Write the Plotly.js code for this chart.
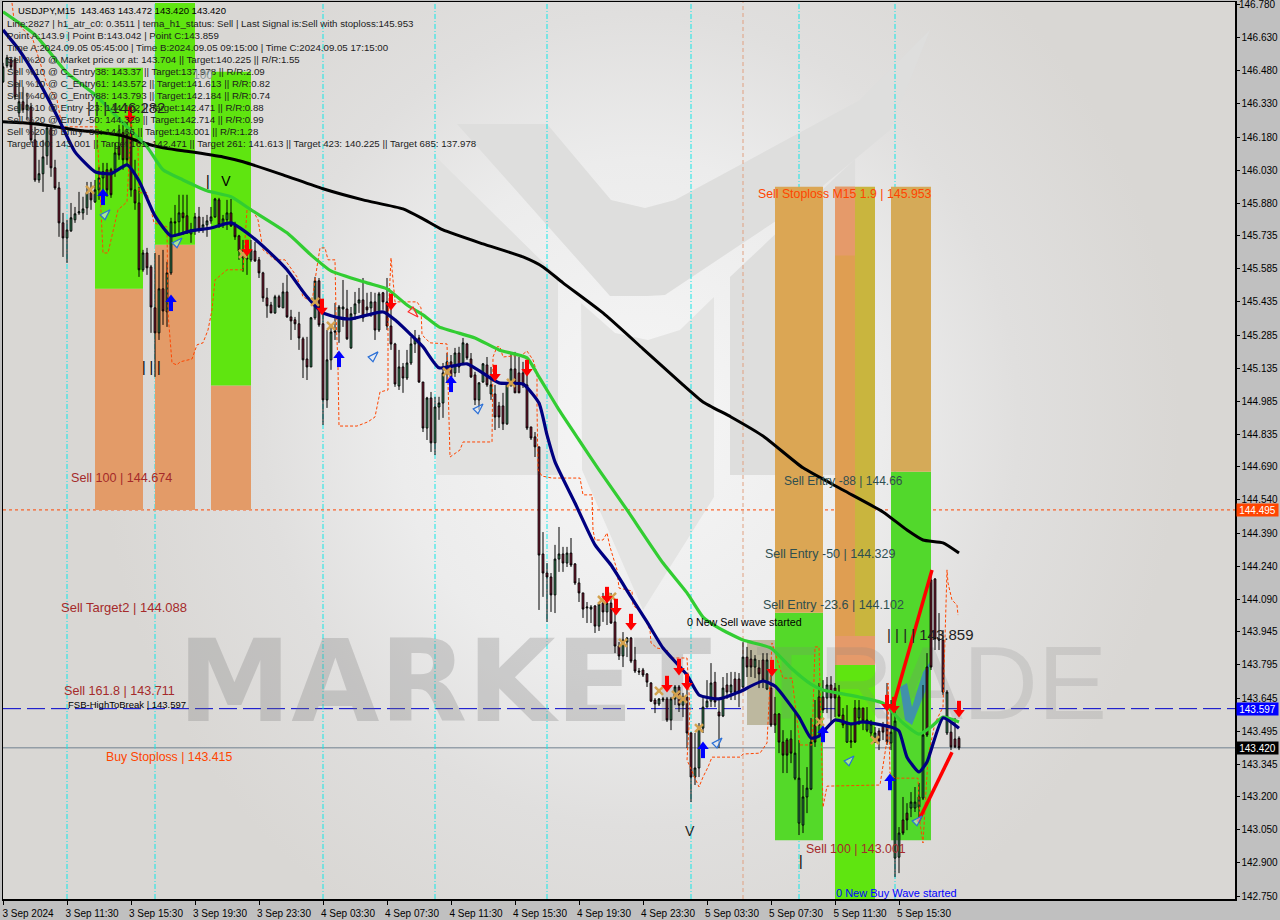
<!DOCTYPE html>
<html><head><meta charset="utf-8">
<script src="https://cdn.plot.ly/plotly-3.0.1.min.js"></script>
<style>
html,body{margin:0;padding:0;width:1280px;height:920px;overflow:hidden;background:#c0c0c0}
#bg{position:absolute;left:3px;top:2px;width:1232px;height:897px;background:radial-gradient(ellipse 540px 580px at 637px 418px,#f6f6f6 0%,#ececec 45%,#e0dfde 70%,#d9d7d4 100%)}
#chart{position:absolute;left:0;top:0;width:1280px;height:920px}
</style></head><body><div id="bg"></div><div id="chart"></div>
<script>
const highs=[146.515,146.551,146.542,146.542,146.425,146.407,146.38,146.334,146.226,146.077,
146.167,146.235,146.235,146.077,145.977,145.837,145.806,145.882,145.864,145.932,
145.91,145.977,145.977,145.986,146.045,146.063,146.063,146.041,146.154,146.235,
146.235,146.244,146.244,146.077,145.955,145.67,145.679,145.602,145.656,145.647,
145.67,145.616,145.815,145.873,145.919,145.919,145.919,145.792,145.837,145.864,
145.819,145.828,145.864,145.905,145.905,145.828,145.896,145.9,145.797,145.738,
145.715,145.715,145.715,145.706,145.638,145.571,145.498,145.435,145.467,145.467,
145.521,145.557,145.399,145.367,145.39,145.277,145.277,145.367,145.548,145.543,
145.421,145.308,145.322,145.43,145.421,145.534,145.489,145.412,145.48,145.498,
145.543,145.476,145.48,145.476,145.48,145.48,145.543,145.444,145.25,145.218,
145.159,145.218,145.277,145.308,145.286,145.073,145.006,145.028,145.006,145.006,
145.159,145.204,145.195,145.227,145.232,145.272,145.25,145.204,145.119,145.073,
145.159,145.186,145.141,145.06,144.983,145.024,145.069,145.204,145.209,145.186,
145.164,145.159,144.87,144.847,144.78,144.395,144.255,144.21,144.337,144.418,
144.328,144.328,144.368,144.255,144.187,144.12,144.079,144.065,144.065,144.079,
144.12,144.111,144.12,144.034,143.898,143.943,143.921,143.921,143.876,143.781,
143.781,143.758,143.717,143.645,143.645,143.65,143.65,143.65,143.704,143.704,
143.668,143.74,143.491,143.487,143.532,143.65,143.726,143.803,143.763,143.636,
143.74,143.758,143.763,143.763,143.758,143.898,143.876,143.862,143.839,143.817,
143.848,143.848,143.749,143.65,143.577,143.5,143.464,143.5,143.577,143.455,
143.252,143.333,143.555,143.636,143.713,143.726,143.74,143.744,143.713,143.704,
143.6,143.613,143.532,143.636,143.636,143.6,143.604,143.546,143.514,143.509,
143.537,143.713,143.636,143.622,143.062,143.198,143.17,143.22,143.243,143.261,
143.704,143.848,144.201,144.187,144.029,143.952,143.681,143.532,143.555,143.472];
const bodyTops=[146.497,146.538,146.529,146.529,146.339,146.339,146.325,146.316,146.167,146.014,
146.09,146.221,146.221,146.041,145.95,145.792,145.76,145.815,145.833,145.842,
145.855,145.928,145.928,145.941,145.995,146.023,146.032,146.032,146.108,146.136,
146.199,146.19,146.199,145.941,145.882,145.656,145.656,145.593,145.408,145.494,
145.494,145.566,145.797,145.797,145.837,145.837,145.824,145.76,145.819,145.819,
145.783,145.801,145.819,145.9,145.896,145.81,145.837,145.837,145.778,145.733,
145.67,145.634,145.67,145.665,145.625,145.566,145.453,145.421,145.458,145.458,
145.48,145.48,145.367,145.354,145.336,145.268,145.177,145.363,145.53,145.53,
145.336,145.173,145.299,145.304,145.412,145.412,145.403,145.381,145.426,145.444,
145.444,145.412,145.435,145.435,145.471,145.476,145.435,145.326,145.245,145.141,
145.141,145.159,145.245,145.268,145.272,145.073,145.001,145.001,144.96,144.978,
145.114,145.164,145.164,145.204,145.204,145.25,145.245,145.177,145.105,145.069,
145.155,145.15,145.06,145.019,144.965,144.965,145.06,145.132,145.132,145.114,
145.114,145.06,144.87,144.825,144.78,144.296,144.21,144.192,144.273,144.296,
144.296,144.3,144.3,144.251,144.165,144.12,144.056,144.056,144.061,144.07,
144.074,144.074,144.074,143.989,143.88,143.907,143.916,143.916,143.817,143.767,
143.772,143.754,143.713,143.636,143.641,143.641,143.641,143.641,143.695,143.695,
143.65,143.65,143.487,143.329,143.509,143.604,143.631,143.713,143.717,143.582,
143.69,143.704,143.704,143.731,143.731,143.83,143.83,143.821,143.821,143.781,
143.817,143.817,143.69,143.573,143.573,143.446,143.455,143.46,143.396,143.283,
143.198,143.238,143.446,143.523,143.65,143.65,143.704,143.704,143.69,143.65,
143.568,143.532,143.451,143.6,143.6,143.6,143.546,143.528,143.487,143.496,
143.523,143.523,143.491,143.541,143.035,143.094,143.125,143.175,143.175,143.198,
143.478,143.785,144.178,144.183,143.912,143.907,143.672,143.491,143.46,143.463];
const bodyBottoms=[146.429,146.502,146.497,146.362,146.289,146.303,146.303,146.167,145.986,145.986,
146.014,146.095,146.041,145.95,145.792,145.724,145.724,145.756,145.806,145.837,
145.837,145.86,145.896,145.887,145.941,145.995,145.941,145.919,146.032,146.099,
146.077,146.077,145.941,145.882,145.58,145.58,145.589,145.412,145.295,145.295,
145.394,145.39,145.566,145.792,145.797,145.815,145.747,145.742,145.76,145.76,
145.765,145.783,145.801,145.819,145.783,145.783,145.806,145.778,145.729,145.665,
145.634,145.629,145.625,145.62,145.566,145.453,145.417,145.385,145.385,145.412,
145.408,145.367,145.349,145.336,145.272,145.173,145.141,145.141,145.363,145.331,
144.992,144.992,145.173,145.299,145.299,145.403,145.268,145.227,145.381,145.43,
145.363,145.399,145.408,145.308,145.308,145.435,145.326,145.245,145.064,145.055,
145.091,145.091,145.159,145.245,145.073,144.865,144.865,144.798,144.798,144.96,
144.978,145.114,145.096,145.114,145.141,145.159,145.182,145.096,144.992,144.992,
145.073,145.06,145.019,144.915,144.915,144.884,144.884,145.06,145.024,145.024,
145.06,144.865,144.82,144.78,144.291,144.21,144.192,144.111,144.111,144.273,
144.255,144.255,144.246,144.165,144.12,144.047,144.052,144.047,143.97,143.97,
144.034,144.034,143.984,143.88,143.835,143.835,143.898,143.812,143.767,143.763,
143.749,143.717,143.631,143.618,143.618,143.636,143.546,143.546,143.641,143.613,
143.613,143.487,143.288,143.288,143.329,143.509,143.604,143.631,143.627,143.564,
143.564,143.672,143.672,143.672,143.672,143.695,143.785,143.785,143.785,143.754,
143.726,143.686,143.523,143.523,143.446,143.387,143.387,143.396,143.283,143.08,
143.071,143.198,143.234,143.446,143.523,143.591,143.645,143.645,143.645,143.564,
143.523,143.446,143.446,143.446,143.555,143.541,143.5,143.487,143.446,143.451,
143.491,143.446,143.442,142.922,142.926,143.035,143.094,143.148,143.148,143.152,
143.193,143.478,143.785,143.912,143.907,143.672,143.487,143.424,143.424,143.42];
const lows=[146.425,146.493,146.484,146.348,146.271,146.289,146.258,146.154,145.977,145.973,
145.932,146.054,146,145.941,145.729,145.638,145.611,145.751,145.792,145.828,
145.806,145.828,145.851,145.882,145.896,145.91,145.91,145.905,146,146.077,
146.032,146.054,145.91,145.851,145.548,145.571,145.557,145.295,145.096,145.263,
145.331,145.322,145.557,145.729,145.738,145.738,145.742,145.702,145.738,145.747,
145.747,145.729,145.788,145.815,145.769,145.769,145.76,145.774,145.715,145.625,
145.571,145.557,145.616,145.616,145.543,145.435,145.363,145.385,145.381,145.408,
145.408,145.363,145.263,145.308,145.218,145.091,145.082,145.141,145.354,145.322,
144.879,144.956,145.128,145.263,145.25,145.322,145.263,145.223,145.354,145.385,
145.345,145.376,145.367,145.263,145.299,145.399,145.308,145.218,145.051,145.037,
145.024,145.082,145.15,145.204,145.069,144.847,144.811,144.757,144.743,144.902,
144.911,145.073,145.082,145.096,145.114,145.15,145.173,145.091,144.969,144.947,
145.069,145.051,144.992,144.856,144.865,144.856,144.879,145.051,145.024,145.024,
145.046,144.856,144.811,144.734,144.043,144.102,143.989,144.034,144.029,144.215,
144.215,144.237,144.237,144.156,144.079,144.007,143.984,143.984,143.939,143.948,
143.989,143.975,143.98,143.848,143.817,143.785,143.83,143.803,143.758,143.749,
143.74,143.695,143.627,143.577,143.609,143.627,143.537,143.5,143.613,143.582,
143.559,143.419,143.175,143.252,143.288,143.487,143.604,143.604,143.604,143.419,
143.559,143.641,143.636,143.636,143.604,143.69,143.74,143.74,143.735,143.69,
143.69,143.681,143.514,143.487,143.396,143.306,143.306,143.351,143.274,143.026,
143.035,143.125,143.229,143.424,143.478,143.577,143.577,143.532,143.559,143.559,
143.509,143.442,143.419,143.442,143.523,143.5,143.491,143.469,143.442,143.41,
143.455,143.433,143.41,142.836,142.854,143.026,143.048,143.107,143.13,143.094,
143.184,143.469,143.772,143.862,143.862,143.659,143.478,143.41,143.419,143.41];
const direction="GGRRGRGRRGGGRRRRGGGGGGRGGGRRGRRRRRRGRRRGRGGRGRRGGRGGGGRGGRRRGGGRRRRRGRGRRRRRRGGRRGGRGGRGGGRRGRGRRRRGRGGGRRGRGGGGRGRGRRRGGRGRRRGGRRRRRRRRRRGGRGRRRRGGRGRGRRRGGRRRRRRRGGRGGRGRRGGGGGRRGRGRRGRRGRRGRRRRRRGGGGGRRRGRRRRGGRGRGGGRRRGGGRRGGGGRRRRRGR";
const blackBars=[0,5,10,15,20,25,30,35,40,45,55,60,70,80,90,100,105,110,120,130,135,140,150,160,170,175,182,190,200,210,220,226,230,235,239];
const blackPrices=[146.249,146.244,146.235,146.221,146.208,146.199,146.185,146.154,146.131,146.118,146.09,146.068,146.009,145.946,145.896,145.855,145.81,145.76,145.697,145.638,145.593,145.521,145.385,145.223,145.06,144.983,144.915,144.829,144.685,144.585,144.486,144.404,144.359,144.346,144.3];
const greenBars=[0,8,16,23,30,36,40,45,51,57,62,71,77,82,91,96,101,105,109,118,124,131,134,139,144,149,156,165,171,175,179,185,192,197,202,205,214,220,225,229,232,235,239];
const greenPrices=[146.746,146.642,146.47,146.371,146.244,146.136,146.032,145.986,145.937,145.91,145.851,145.747,145.647,145.575,145.521,145.494,145.421,145.376,145.322,145.272,145.218,145.182,145.096,144.947,144.811,144.676,144.495,144.255,144.12,144.011,143.961,143.907,143.871,143.781,143.708,143.681,143.65,143.622,143.532,143.482,143.514,143.559,143.537];
const navyBars=[0,4,9,14,18,23,27,31,34,38,42,47,52,57,62,66,71,76,80,84,87,95,98,102,105,109,116,124,130,134,136,138,143,148,152,157,161,165,171,174,179,184,190,193,199,202,204,208,212,215,222,224,226,229,231,235,239];
const navyPrices=[146.664,146.574,146.429,146.258,146.113,146.023,146.014,146.054,145.982,145.824,145.733,145.756,145.769,145.792,145.733,145.67,145.58,145.458,145.385,145.363,145.358,145.39,145.354,145.286,145.232,145.137,145.155,145.069,145.064,144.978,144.834,144.712,144.526,144.337,144.246,144.102,143.989,143.871,143.749,143.659,143.641,143.672,143.722,143.699,143.559,143.464,143.473,143.546,143.528,143.537,143.514,143.496,143.378,143.311,143.356,143.555,143.509];
const stopBars=[2.25,2.75,7.5,11,13.5,14.75,23.5,24.25,25,26.25,27.5,28.75,31,31.25,32,33.75,34,36,37.75,41,41.25,42.25,43.5,44.25,47.25,48.5,50,51.25,52.25,53,56,60,61,62.25,63.75,65,68,70.5,73.5,75,77.25,78.5,79.25,80.5,81.25,83,83.25,83.75,84,88.5,91.25,93,94.25,96.25,96.25,97,97.75,98,103.5,104.5,104.75,106.75,111,111.25,111.75,114.25,115,122.25,122.5,123.5,124.25,125,129.75,131,132.5,133.5,133.5,133.75,134.75,137.25,144.25,145,147.25,147.5,148,150,151,151.75,153.5,154,157.25,157.5,160,161.75,162,163.5,166,166.75,171,171.75,171,174,175,176.25,177.25,184.25,185,189.25,191,192.25,193.5,195,197.25,199.25,202.25,203,204,205,206,219.25,221,221.25,221.75,223,228.75,229.25,230,230.5,231.25,233,235,236,236.25,237.25,238.5,238.75];
const stopPrices=[146.786,146.71,146.619,146.416,146.348,146.226,146.226,145.928,145.656,145.656,145.76,145.851,145.887,145.973,146.244,146.136,145.928,145.928,145.792,145.774,145.385,145.159,145.15,145.164,145.177,145.241,145.25,145.308,145.399,145.534,145.58,145.58,145.851,145.855,145.806,145.67,145.625,145.625,145.548,145.458,145.435,145.593,145.679,145.679,145.625,145.625,145.385,145.141,144.874,144.874,144.893,144.915,145.028,145.037,145.34,145.634,145.467,145.435,145.435,145.408,145.286,145.25,145.245,145.069,144.734,144.766,144.802,144.802,145.186,145.232,145.232,145.186,145.195,145.213,145.173,145.114,144.96,144.676,144.648,144.639,144.639,144.563,144.563,144.404,144.359,144.359,144.391,144.328,144.224,144.142,144.129,144.065,144.02,143.952,143.894,143.871,143.862,143.826,143.826,143.591,143.365,143.243,143.288,143.333,143.378,143.378,143.392,143.396,143.442,143.894,143.817,143.735,143.735,143.433,143.433,143.876,143.876,143.152,143.247,143.252,143.455,143.713,143.306,143.283,143.283,143.08,142.99,143.152,143.378,143.532,143.604,144.224,144.165,144.088,144.065,144.02];
const waveBars=[222.25,232.25,null,228.75,237.25];
const wavePrices=[143.591,144.224,null,143.085,143.4];
const downBars=[31.75,61,79.75,97,123,131,151,153.25,157,166,169,171,192.25,221,222.75,239];
const downPrices=[146.249,145.647,145.381,145.403,145.082,145.105,144.079,144.025,143.957,143.677,143.754,143.686,143.749,143.591,143.582,143.564];
const upBars=[25,42,84,112,175,205,221.75];
const upPrices=[145.941,145.462,145.209,145.096,143.442,143.514,143.297];
const hollowBars=[26.75,44.75,93.75,120,179.75,212.75,229.75];
const hollowPrices=[145.851,145.724,145.209,144.974,143.464,143.383,143.112];
const hollowRedBars=[103.75];
const hollowRedPrices=[145.367];
const crossBars=[21.75,60,78,82,111,127,149.75,152.25,155,164,168.25,170,174,204.25,218];
const crossPrices=[145.941,145.652,145.435,145.327,145.119,145.069,144.088,144.102,143.894,143.677,143.659,143.641,143.509,143.537,143.455];
const priceTicks=[146.780,146.630,146.480,146.330,146.180,146.030,145.880,145.735,145.585,145.435,145.285,145.135,144.985,144.835,144.690,144.540,144.390,144.240,144.090,143.945,143.795,143.645,143.495,143.345,143.200,143.050,142.900,142.750];
const timeTicks=[0,16,32,48,64,80,96,112,128,144,160,176,192,208,224];
const timeLabels=["3 Sep 2024","3 Sep 11:30","3 Sep 15:30","3 Sep 19:30","3 Sep 23:30","4 Sep 03:30","4 Sep 07:30","4 Sep 11:30","4 Sep 15:30","4 Sep 19:30","4 Sep 23:30","5 Sep 03:30","5 Sep 07:30","5 Sep 11:30","5 Sep 15:30"];
const sessionLines=[16,38,80,108,136,172,199,223];
const infoLines=["Line:2827 | h1_atr_c0: 0.3511 | tema_h1_status: Sell | Last Signal is:Sell with stoploss:145.953","Point A:143.9 | Point B:143.042 | Point C:143.859","Time A:2024.09.05 05:45:00 | Time B:2024.09.05 09:15:00 | Time C:2024.09.05 17:15:00","Sell %20 @ Market price or at: 143.704 || Target:140.225 || R/R:1.55","Sell %10 @ C_Entry38: 143.37 || Target:137.978 || R/R:2.09","Sell %10 @ C_Entry61: 143.572 || Target:141.613 || R/R:0.82","Sell %40 @ C_Entry88: 143.793 || Target:142.184 || R/R:0.74","Sell %10 @ Entry -23: 144.102 || Target:142.471 || R/R:0.88","Sell %20 @ Entry -50: 144.329 || Target:142.714 || R/R:0.99","Sell %20 @ Entry -88: 144.66 || Target:143.001 || R/R:1.28","Target100: 143.001 || Target 161: 142.471 || Target 261: 141.613 || Target 423: 140.225 || Target 685: 137.978"];
const labelTexts=["Sell 100 | 144.674","Sell Target2 | 144.088","Sell 161.8 | 143.711","FSB-HighToBreak | 143.597","Buy Stoploss | 143.415","Sell Stoploss M15 1.9 | 145.953","Sell Entry -88 | 144.66","Sell Entry -50 | 144.329","Sell Entry -23.6 | 144.102","0 New Sell wave started","Sell 100 | 143.001","0 New Buy Wave started","| | | 146.282","| | | | 143.859","| | |","|","|   V","V","100"];
const labelBars=[17,14.5,15.25,16.25,25.75,188.75,195.25,190.5,190,171,200.75,208.25,21,221,34.75,199,50.75,170.5,47.5];
const labelPrices=[144.64,144.052,143.677,143.618,143.378,145.923,144.626,144.296,144.065,143.989,142.963,142.764,146.312,143.931,145.141,142.908,145.982,143.044,146.46];
const labelColors=["#a52a2a","#a52a2a","#a52a2a","#000","#ff4500","#ff4500","#2f4f4f","#2f4f4f","#2f4f4f","#000","#a52a2a","#0000ff","#222","#222","#000","#000","#000","#222","#8a9a9a"];
const labelSizes=[12.6,13,12.6,9.5,12.3,12.3,12,12.5,12.5,10.7,12.4,11,15,15,14,14,14,14,12];

const GREEN='#5fe510',ORANGE='#e39b68',TAN='#dba654';
function rect(x0,x1,p0,p1,color){return {type:'rect',layer:'below',xref:'x',yref:'y',x0,x1,y0:p0,y1:p1,fillcolor:color,line:{width:0}};}
function px(x,y){return [(x-3)/1232,(899-y)/897];}
function poly(points,color){const d=points.map((p,i)=>{const q=px(p[0],p[1]);return (i?'L':'M')+q[0].toFixed(4)+','+q[1].toFixed(4);}).join('')+'Z';
  return {type:'path',layer:'below',xref:'paper',yref:'paper',path:d,fillcolor:color,line:{width:0}};}

const shapes=[
 poly([[457,124],[547,124],[611,200],[645,208],[675,200],[860,100],[930,30],[890,130],[800,205],[665,295],[648,296],[610,296]],'#dededd'),
 poly([[436,157],[558,277],[558,475],[436,475]],'#e1e1e0'),
 poly([[581,303],[615,333],[648,340],[680,330],[714,297],[714,497],[643,610],[582,470]],'#e4e4e3'),
 poly([[730,277],[855,159],[855,475],[730,475]],'#dededd'),
 rect(23,35,144.495,145.494,ORANGE), rect(23,35,145.494,146.493,GREEN),
 rect(38,48,144.495,145.693,ORANGE), rect(38,48,145.693,146.786,GREEN),
 rect(52,62,144.495,145.057,ORANGE), rect(52,62,145.057,146.475,GREEN),
 rect(186,193,143.523,143.907,'#bdb89f'),
 rect(193,205,143.003,144.03,'#54d929'), rect(193,205,144.03,145.955,TAN),
 poly([[775,187],[806,187],[806,205],[775,233]],'#c8b440'),
 poly([[806,187],[823,187],[823,222],[806,205]],'#e49c68'),
 rect(208,218,142.737,143.794,GREEN), rect(208,218,143.794,143.925,'#e59a6a'),
 rect(208,213,143.925,145.955,'#df9e52'), rect(213,218,143.925,145.955,'#c9b53e'), rect(208,213,145.645,145.955,'#e59a6a'),
 rect(222,232,143.003,144.667,'#52d82c'), rect(222,232,144.667,145.955,'#d5aa58'),
 {type:'rect',layer:'below',xref:'x',yref:'y',x0:35.75,x1:185,y0:143.565,y1:143.949,fillcolor:'rgba(0,0,0,0)',line:{width:0},
  label:{text:'<b>MARKET</b>',textposition:'middle center',font:{family:'DejaVu Sans',size:114,color:'rgba(120,120,118,0.27)'}}},
 {type:'rect',layer:'below',xref:'x',yref:'y',x0:195,x1:269,y0:143.565,y1:143.949,fillcolor:'rgba(0,0,0,0)',line:{width:0},
  label:{text:'TRADE',textposition:'middle center',font:{family:'Liberation Sans Narrow, Liberation Sans',size:104,color:'rgba(130,130,128,0.2)'}}},
 {type:'path',layer:'below',xref:'x',yref:'y',path:'M224.25,143.695L226,143.713L227.25,143.604L230,143.763L231.75,143.808L231,143.695L227.25,143.523L225.5,143.546Z',fillcolor:'rgba(60,130,200,0.8)',line:{width:0}},
 {type:'line',layer:'below',xref:'paper',yref:'y',x0:0,x1:1,y0:144.495,y1:144.495,line:{color:'#ff4500',width:1,dash:'3px,3px'}},
 {type:'line',layer:'below',xref:'paper',yref:'y',x0:0,x1:1,y0:143.597,y1:143.597,line:{color:'#0000cd',width:1,dash:'18px,6px'}},
 {type:'line',layer:'below',xref:'paper',yref:'y',x0:0,x1:1,y0:143.42,y1:143.42,line:{color:'#708090',width:1}},
 {type:'line',layer:'below',xref:'x',yref:'paper',x0:185,x1:185,y0:0,y1:1,line:{color:'#e0a080',width:1,dash:'4px,3px'}}
];
sessionLines.forEach(b=>shapes.push({type:'line',layer:'below',xref:'x',yref:'paper',x0:b,x1:b,y0:0,y1:1,line:{color:'#14e6e6',width:1,dash:'5px,2px,1px,2px'}}));

const annotations=[];
annotations.push({xref:'paper',yref:'paper',x:px(16,0)[0],y:px(0,10.7)[1],xanchor:'left',yanchor:'middle',showarrow:false,text:'USDJPY,M15  143.463 143.472 143.420 143.420',font:{family:'Liberation Sans',size:9.5,color:'#000'}});
infoLines.forEach((t,i)=>annotations.push({xref:'paper',yref:'paper',x:px(5,0)[0],y:px(0,23.7+12*i)[1],xanchor:'left',yanchor:'middle',showarrow:false,text:t,font:{family:'Liberation Sans',size:9.7,color:'#1c1c1c'}}));
labelTexts.forEach((t,i)=>annotations.push({xref:'x',yref:'y',x:labelBars[i],y:labelPrices[i],xshift:-2,xanchor:'left',yanchor:'middle',showarrow:false,text:t,font:{family:'Liberation Sans',size:labelSizes[i],color:labelColors[i]}}));
function tag(price,bg,label){annotations.push({xref:'paper',yref:'y',x:1,y:price,xanchor:'left',yanchor:'middle',xshift:1,showarrow:false,text:label,width:41,height:12,align:'center',borderpad:0,bgcolor:bg,font:{family:'Liberation Sans',size:10,color:'#fff'}});}
tag(144.495,'#ff4500','144.495');tag(143.597,'#0000ff','143.597');tag(143.42,'#000','143.420');
annotations.push({xref:'paper',yref:'y',x:1,y:146.78,xanchor:'left',yanchor:'middle',xshift:2,showarrow:false,text:'146.780',font:{family:'Liberation Sans',size:10,color:'#000'}});

const bars=highs.map((_,i)=>i);
const opens=bars.map(i=>direction[i]==='G'?bodyBottoms[i]:bodyTops[i]);
const closes=bars.map(i=>direction[i]==='G'?bodyTops[i]:bodyBottoms[i]);
const skip={hoverinfo:'skip'};
const data=[
 {type:'candlestick',x:bars,open:opens,high:highs,low:lows,close:closes,whiskerwidth:0,hoverinfo:'skip',
  increasing:{line:{color:'#000',width:1},fillcolor:'#3cb371'},decreasing:{line:{color:'#000',width:1},fillcolor:'#b0143c'}},
 {type:'scatter',mode:'lines',x:stopBars,y:stopPrices,line:{color:'#ff4500',width:1,dash:'3px,2px'},...skip},
 {type:'scatter',mode:'lines',x:blackBars,y:blackPrices,line:{color:'#000',width:3,shape:'spline',smoothing:0.5},...skip},
 {type:'scatter',mode:'lines',x:greenBars,y:greenPrices,line:{color:'#32cd32',width:3.2,shape:'spline',smoothing:0.5},...skip},
 {type:'scatter',mode:'lines',x:navyBars,y:navyPrices,line:{color:'#000080',width:3.2,shape:'spline',smoothing:0.5},...skip},
 {type:'scatter',mode:'lines',x:waveBars,y:wavePrices,line:{color:'#ff0000',width:3.5},connectgaps:false,...skip},
 {type:'scatter',mode:'markers',x:crossBars,y:crossPrices,marker:{symbol:'x-thin',size:8,line:{color:'#d4a24e',width:2.5}},...skip},
 {type:'scatter',mode:'markers',x:hollowBars,y:hollowPrices,marker:{symbol:'arrow',angle:45,size:11,color:'rgba(225,235,250,0.55)',line:{color:'#2a6fd6',width:1.2}},...skip},
 {type:'scatter',mode:'markers',x:hollowRedBars,y:hollowRedPrices,marker:{symbol:'arrow',angle:135,size:11,color:'rgba(250,235,225,0.55)',line:{color:'#ff2a2a',width:1.2}},...skip},
 {type:'scatter',mode:'markers',x:downBars,y:downPrices.map(p=>p+0.04),marker:{symbol:'line-ns',size:9,line:{color:'#ff0000',width:4}},...skip},
 {type:'scatter',mode:'markers',x:downBars,y:downPrices.map(p=>p+0.016),marker:{symbol:'triangle-down',size:10,color:'#ff0000',line:{width:0}},...skip},
 {type:'scatter',mode:'markers',x:upBars,y:upPrices.map(p=>p-0.04),marker:{symbol:'line-ns',size:9,line:{color:'#0000ff',width:4}},...skip},
 {type:'scatter',mode:'markers',x:upBars,y:upPrices.map(p=>p-0.016),marker:{symbol:'triangle-up',size:10,color:'#0000ff',line:{width:0}},...skip}
];
const layout={width:1280,height:920,margin:{l:3,r:45,t:2,b:21,pad:0},paper_bgcolor:'rgba(0,0,0,0)',plot_bgcolor:'rgba(0,0,0,0)',showlegend:false,boxgap:0.38,hovermode:false,
 xaxis:{type:'linear',range:[0,308],rangeslider:{visible:false},showgrid:false,zeroline:false,showline:true,mirror:true,linecolor:'#000',linewidth:1.5,ticks:'outside',ticklen:4,tickcolor:'#000',tickmode:'array',tickvals:timeTicks,ticktext:timeLabels,ticklabelshift:25,tickangle:0,tickfont:{family:'Liberation Sans',size:10,color:'#000'}},
 yaxis:{range:[142.737,146.79],side:'right',showgrid:false,zeroline:false,showline:true,mirror:true,linecolor:'#000',linewidth:1.5,ticks:'outside',ticklen:3,tickcolor:'#000',tickmode:'array',tickvals:priceTicks,ticktext:priceTicks.map(v=>v.toFixed(3)),tickfont:{family:'Liberation Sans',size:10,color:'#000'}},
 shapes,annotations};
Plotly.newPlot('chart',data,layout,{displayModeBar:false,staticPlot:true});
</script></body></html>
